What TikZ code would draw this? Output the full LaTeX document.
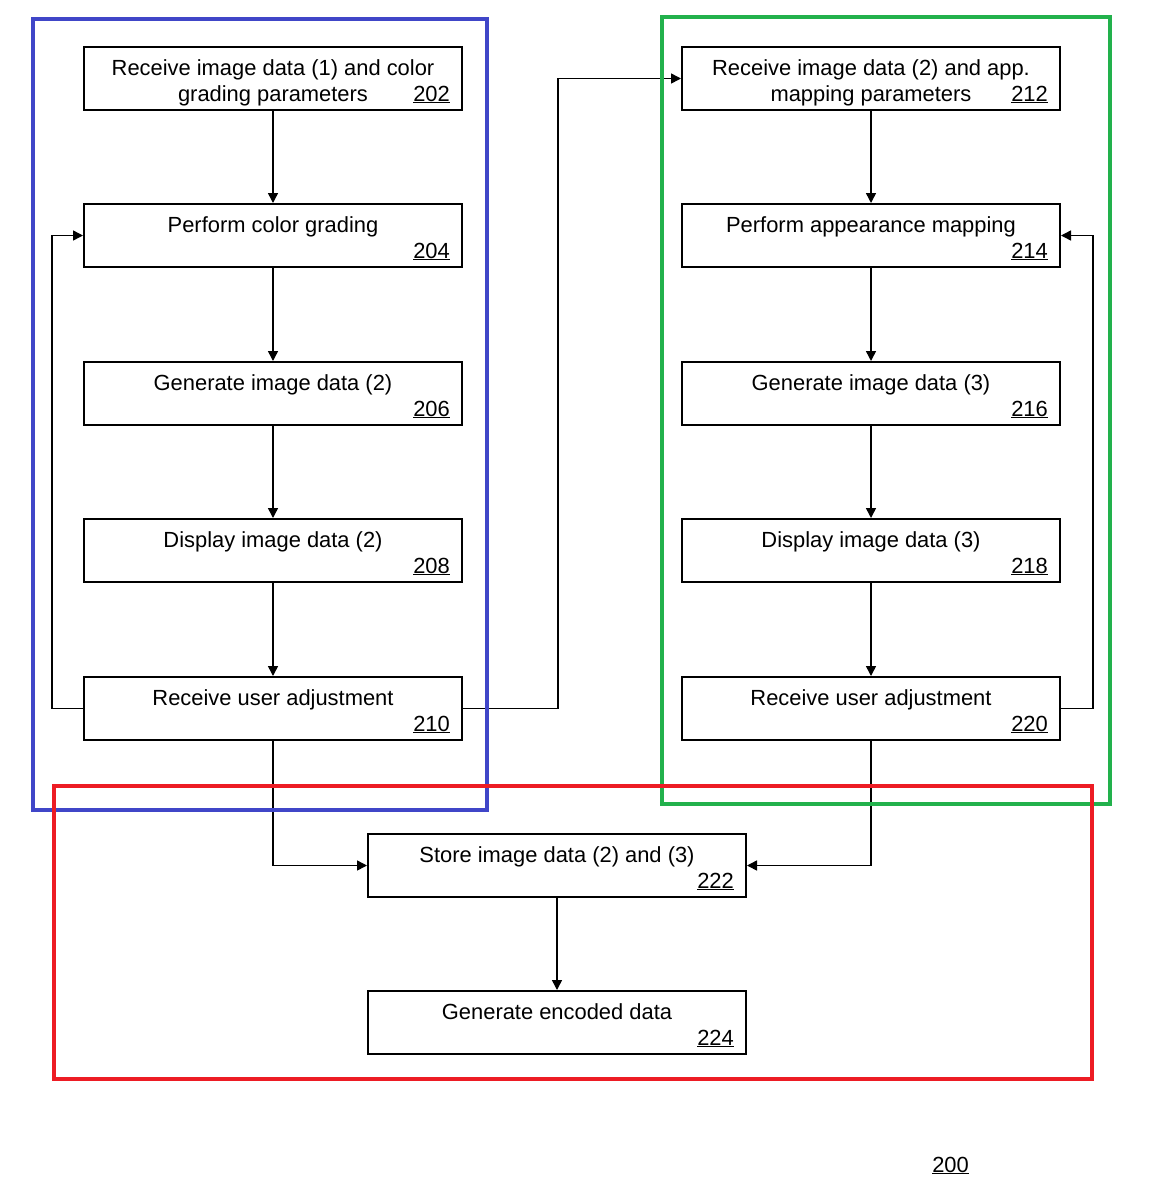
\documentclass[tikz,border=0pt]{standalone}
\usepackage{fontspec}
\setmainfont{Liberation Sans}
\usetikzlibrary{arrows.meta,calc}
\definecolor{frameblue}{RGB}{64,70,200}
\definecolor{framegreen}{RGB}{34,177,76}
\definecolor{framered}{RGB}{237,28,36}
\begin{document}
\begin{tikzpicture}[x=1pt,y=-1pt,
  stepbox/.style={draw=black,line width=2pt,rectangle,minimum width=378pt,minimum height=63pt,inner sep=0pt},
  txt/.style={anchor=base,inner sep=0pt,font=\fontsize{21.9}{26}\selectfont},
  num/.style={anchor=base east,inner sep=0pt,font=\fontsize{21.9}{26}\selectfont},
  conn/.style={draw=black,line width=1.5pt,-{Triangle[length=10pt,width=10pt]}},
  frame/.style={line width=4pt}]
\useasboundingbox (0,0) rectangle (1156,1200);
\fill[white] (0,0) rectangle (1156,1200);
% boxes
\node[stepbox] (b202) at (273,78.5) {};
\node[stepbox] (b204) at (273,235.5) {};
\node[stepbox] (b206) at (273,393.5) {};
\node[stepbox] (b208) at (273,550.5) {};
\node[stepbox] (b210) at (273,708.5) {};
\node[stepbox] (b212) at (871,78.5) {};
\node[stepbox] (b214) at (871,235.5) {};
\node[stepbox] (b216) at (871,393.5) {};
\node[stepbox] (b218) at (871,550.5) {};
\node[stepbox] (b220) at (871,708.5) {};
\node[stepbox] (b222) at (557,865.5) {};
\node[stepbox] (b224) at (557,1022.5) {};
% texts
\node[txt] (t202a) at ($(b202.north)+(0,29)$) {Receive image data (1) and color};
\node[txt] (t202b) at ($(b202.north)+(0,55)$) {grading parameters};
\node[num] (n202) at ($(b202.north east)+(-13,55)$) {\underline{202}};
\node[txt] (t204) at ($(b204.north)+(0,29)$) {Perform color grading};
\node[num] (n204) at ($(b204.north east)+(-13,55)$) {\underline{204}};
\node[txt] (t206) at ($(b206.north)+(0,29)$) {Generate image data (2)};
\node[num] (n206) at ($(b206.north east)+(-13,55)$) {\underline{206}};
\node[txt] (t208) at ($(b208.north)+(0,29)$) {Display image data (2)};
\node[num] (n208) at ($(b208.north east)+(-13,55)$) {\underline{208}};
\node[txt] (t210) at ($(b210.north)+(0,29)$) {Receive user adjustment};
\node[num] (n210) at ($(b210.north east)+(-13,55)$) {\underline{210}};
\node[txt] (t212a) at ($(b212.north)+(0,29)$) {Receive image data (2) and app.};
\node[txt] (t212b) at ($(b212.north)+(0,55)$) {mapping parameters};
\node[num] (n212) at ($(b212.north east)+(-13,55)$) {\underline{212}};
\node[txt] (t214) at ($(b214.north)+(0,29)$) {Perform appearance mapping};
\node[num] (n214) at ($(b214.north east)+(-13,55)$) {\underline{214}};
\node[txt] (t216) at ($(b216.north)+(0,29)$) {Generate image data (3)};
\node[num] (n216) at ($(b216.north east)+(-13,55)$) {\underline{216}};
\node[txt] (t218) at ($(b218.north)+(0,29)$) {Display image data (3)};
\node[num] (n218) at ($(b218.north east)+(-13,55)$) {\underline{218}};
\node[txt] (t220) at ($(b220.north)+(0,29)$) {Receive user adjustment};
\node[num] (n220) at ($(b220.north east)+(-13,55)$) {\underline{220}};
\node[txt] (t222) at ($(b222.north)+(0,29)$) {Store image data (2) and (3)};
\node[num] (n222) at ($(b222.north east)+(-13,55)$) {\underline{222}};
\node[txt] (t224) at ($(b224.north)+(0,29)$) {Generate encoded data};
\node[num] (n224) at ($(b224.north east)+(-13,55)$) {\underline{224}};
\node[num] (n200) at (969,1172) {\underline{200}};
% connectors
\draw[conn] (b202) -- (b204);
\draw[conn] (b204) -- (b206);
\draw[conn] (b206) -- (b208);
\draw[conn] (b208) -- (b210);
\draw[conn] (b212) -- (b214);
\draw[conn] (b214) -- (b216);
\draw[conn] (b216) -- (b218);
\draw[conn] (b218) -- (b220);
\draw[conn] (b222) -- (b224);
\draw[conn] (b210.west) -- ++(-31,0) |- (b204.west);
\draw[conn] (b220.east) -- ++(32,0) |- (b214.east);
\draw[conn] (b210.east) -- ++(95,0) |- (b212.west);
\draw[conn] (b210.south) |- (b222.west);
\draw[conn] (b220.south) |- (b222.east);
% frames
\draw[frame,framegreen] (662,17) rectangle (1110,804);
\draw[frame,frameblue] (33,19) rectangle (487,810);
\draw[frame,framered] (54,786) rectangle (1092,1079);
\end{tikzpicture}
\end{document}
